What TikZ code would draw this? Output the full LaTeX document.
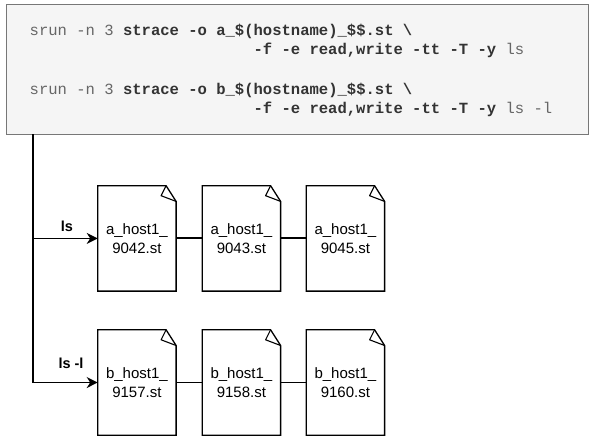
\documentclass[tikz,border=0pt]{standalone}
\usepackage{fontspec}
\setmainfont{Liberation Sans}
\newfontfamily\codefont{Liberation Mono}
\usetikzlibrary{arrows.meta}
\definecolor{boxfill}{HTML}{F5F5F5}
\definecolor{boxline}{HTML}{777777}
\definecolor{codetext}{HTML}{333333}
\definecolor{codelight}{HTML}{666666}
\begin{document}
\begin{tikzpicture}[x=1pt,y=-1pt,
  codebox/.style={draw=boxline, fill=boxfill, line width=1pt, minimum width=582pt, minimum height=130pt, inner sep=0pt},
  codeline/.style={anchor=base west, inner sep=0pt, font=\codefont\fontsize{15.55}{19}\selectfont, text=codelight},
  hl/.style={},
  docnode/.style={minimum width=78pt, minimum height=105pt, inner sep=0pt, align=center, font=\fontsize{15}{18.5}\selectfont},
  docline/.style={line width=1.3pt},
  lbl/.style={font=\bfseries\fontsize{14.5}{17}\selectfont, anchor=base, inner sep=0pt},
  feed/.style={line width=1.3pt, -{Stealth[length=11pt,width=11pt,inset=3.5pt]}},
  linkthick/.style={line width=2pt},
  linkthin/.style={line width=1.3pt}]
\useasboundingbox (0,0) rectangle (589,437);
\newcommand\kw[1]{\textbf{\color{codetext}#1}}

% code box
\node[codebox] (code) at (297,69) {};
\node[codeline] (l1) at (29.5,35) {srun -n 3 \kw{strace -o a\_\$(hostname)\_\$\$.st \textbackslash}};
\node[codeline] (l2) at (253.4,54) {\kw{-f -e read,write -tt -T -y} ls};
\node[codeline] (l3) at (29.5,94) {srun -n 3 \kw{strace -o b\_\$(hostname)\_\$\$.st \textbackslash}};
\node[codeline] (l4) at (253.4,113) {\kw{-f -e read,write -tt -T -y} ls -l};

% documents
\node[docnode] (a1) at (136.9,238.4) {a\_host1\_\\9042.st};
\node[docnode] (a2) at (241.4,238.4) {a\_host1\_\\9043.st};
\node[docnode] (a3) at (345.4,238.4) {a\_host1\_\\9045.st};
\node[docnode] (b1) at (136.9,382.5) {b\_host1\_\\9157.st};
\node[docnode] (b2) at (241.4,382.5) {b\_host1\_\\9158.st};
\node[docnode] (b3) at (345.4,382.5) {b\_host1\_\\9160.st};

\foreach \n in {a1,a2,a3,b1,b2,b3}{
  \draw[docline] (\n.north west) -- ([xshift=-10pt]\n.north east) -- ([yshift=-15.7pt]\n.north east) -- (\n.south east) -- (\n.south west) -- cycle;
  \draw[line width=1.1pt, line join=round] ([xshift=-10pt]\n.north east) -- ([xshift=-15pt,yshift=-10pt]\n.north east) -- ([yshift=-15.7pt]\n.north east);
}

% trunk and feeds
\coordinate (trunk) at (33,134);
\draw[feed] (trunk) |- (a1);
\draw[feed] (trunk) |- (b1);
\node[lbl] (lls) at (67,231) {ls};
\node[lbl] (llsl) at (71,368) {ls -l};

% links between files
\draw[linkthick] (a1) -- (a2);
\draw[linkthick] (a2) -- (a3);
\draw[linkthin] (b1) -- (b2);
\draw[linkthin] (b2) -- (b3);
\end{tikzpicture}
\end{document}
